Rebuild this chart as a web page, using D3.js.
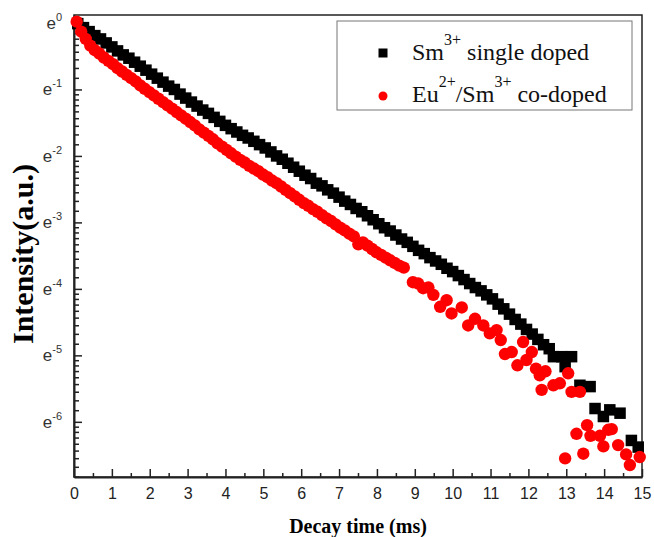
<!DOCTYPE html>
<html lang="en">
<head>
<meta charset="UTF-8">
<title>Decay curves Sm3+ / Eu2+ Sm3+</title>
<script src="https://d3js.org/d3.v7.min.js"></script>
<style>
  body { margin: 0; background: #fff; }
  svg { display: block; }
  text { white-space: pre; }
</style>
</head>
<body>
<svg width="654" height="537"></svg>
<script>
  // decay time (ms) and ln(intensity)
  const smTime = [0.10, 0.25, 0.40, 0.55, 0.70, 0.85, 1.00, 1.15, 1.30, 1.45, 1.60, 1.75, 1.90, 2.05, 2.20,
    2.35, 2.50, 2.65, 2.80, 2.95, 3.10, 3.25, 3.40, 3.55, 3.70, 3.85, 4.00, 4.15, 4.30, 4.45, 4.60, 4.75,
    4.90, 5.05, 5.20, 5.35, 5.50, 5.65, 5.80, 5.95, 6.10, 6.25, 6.40, 6.55, 6.70, 6.85, 7.00, 7.15, 7.30,
    7.45, 7.60, 7.75, 7.90, 8.05, 8.20, 8.35, 8.50, 8.65, 8.80, 8.95, 9.10, 9.25, 9.40, 9.55, 9.70, 9.85,
    10.00, 10.15, 10.30, 10.45, 10.60, 10.75, 10.90, 11.05, 11.20, 11.35, 11.50, 11.65, 11.80, 11.95,
    12.10, 12.25, 12.40, 12.55, 12.66, 12.88, 12.97, 13.14, 13.36, 13.63, 13.76, 13.98, 14.15, 14.42,
    14.72, 14.90];
  const smExp = [-0.01, -0.07, -0.13, -0.19, -0.24, -0.30, -0.36, -0.42, -0.48, -0.53, -0.59, -0.65, -0.71,
    -0.77, -0.83, -0.89, -0.95, -1.00, -1.07, -1.13, -1.19, -1.25, -1.31, -1.36, -1.42, -1.48, -1.54, -1.59,
    -1.64, -1.69, -1.73, -1.78, -1.83, -1.88, -1.94, -2.00, -2.05, -2.11, -2.17, -2.23, -2.29, -2.34, -2.41,
    -2.45, -2.51, -2.56, -2.62, -2.68, -2.73, -2.79, -2.84, -2.90, -2.96, -3.02, -3.08, -3.13, -3.19, -3.25,
    -3.30, -3.36, -3.42, -3.47, -3.53, -3.58, -3.63, -3.69, -3.74, -3.80, -3.86, -3.92, -3.98, -4.03, -4.09,
    -4.15, -4.23, -4.30, -4.38, -4.46, -4.53, -4.61, -4.68, -4.76, -4.84, -4.90, -5.02, -5.02, -5.17, -5.02,
    -5.45, -5.47, -5.80, -5.92, -5.82, -5.87, -6.28, -6.38];

  const euTime = [0.07, 0.19, 0.31, 0.43, 0.55, 0.67, 0.79, 0.91, 1.03, 1.15, 1.27, 1.39, 1.51, 1.63, 1.75,
    1.87, 1.99, 2.11, 2.23, 2.35, 2.47, 2.59, 2.71, 2.83, 2.95, 3.07, 3.19, 3.31, 3.43, 3.55, 3.67, 3.79,
    3.91, 4.03, 4.15, 4.27, 4.39, 4.51, 4.63, 4.75, 4.87, 4.99, 5.11, 5.23, 5.35, 5.47, 5.59, 5.71, 5.83,
    5.95, 6.07, 6.19, 6.31, 6.43, 6.55, 6.67, 6.79, 6.91, 7.03, 7.15, 7.27, 7.39, 7.51, 7.63, 7.75, 7.87,
    7.99, 8.11, 8.23, 8.35, 8.47, 8.59, 8.71, 8.95, 9.09, 9.22, 9.36, 9.49, 9.67, 9.84, 9.97, 10.24, 10.41,
    10.59, 10.81, 10.98, 11.16, 11.27, 11.38, 11.56, 11.71, 11.86, 11.95, 12.09, 12.20, 12.30, 12.35,
    12.45, 12.66, 12.83, 12.97, 13.05, 13.14, 13.27, 13.36, 13.45, 13.55, 13.64, 13.89, 13.98, 14.11,
    14.20, 14.37, 14.58, 14.68, 14.94];
  const euExp = [0.02, -0.13, -0.24, -0.34, -0.41, -0.46, -0.52, -0.57, -0.62, -0.68, -0.73, -0.78, -0.83,
    -0.88, -0.94, -0.99, -1.04, -1.09, -1.14, -1.19, -1.24, -1.29, -1.34, -1.39, -1.44, -1.49, -1.54, -1.60,
    -1.65, -1.70, -1.75, -1.81, -1.86, -1.91, -1.96, -2.01, -2.06, -2.10, -2.15, -2.19, -2.23, -2.28, -2.32,
    -2.37, -2.41, -2.46, -2.51, -2.56, -2.61, -2.66, -2.71, -2.75, -2.80, -2.84, -2.89, -2.94, -2.98, -3.03,
    -3.08, -3.12, -3.17, -3.21, -3.33, -3.30, -3.35, -3.40, -3.45, -3.49, -3.53, -3.57, -3.61, -3.65, -3.68,
    -3.90, -3.92, -3.99, -3.98, -4.09, -4.27, -4.17, -4.37, -4.28, -4.55, -4.45, -4.55, -4.67, -4.62, -4.77,
    -4.98, -4.95, -5.15, -4.80, -5.07, -4.95, -5.20, -5.30, -5.52, -5.24, -5.45, -5.42, -6.55, -5.27, -5.55,
    -6.18, -5.55, -6.48, -6.05, -6.21, -6.21, -6.37, -6.12, -6.11, -6.35, -6.49, -6.65, -6.53];

  const xTicks = [0, 1, 2, 3, 4, 5, 6, 7, 8, 9, 10, 11, 12, 13, 14, 15];
  const yExpTicks = [0, -1, -2, -3, -4, -5, -6];

  const smData = smTime.map((t, i) => ({ t: t, v: Math.exp(smExp[i]) }));
  const euData = euTime.map((t, i) => ({ t: t, v: Math.exp(euExp[i]) }));

  const plotL = 74, plotR = 642, plotT = 15, plotB = 477;

  const x = d3.scaleLinear().domain([0, 15]).range([plotL, plotR]);
  const y = d3.scaleLog().base(Math.E)
    .domain([Math.exp(-6.83), Math.exp(0.12)])
    .range([plotB, plotT]);

  const svg = d3.select('svg');

  // frame
  svg.append('rect')
    .attr('x', plotL).attr('y', plotT)
    .attr('width', plotR - plotL).attr('height', plotB - plotT)
    .attr('fill', 'none').attr('stroke', '#222').attr('stroke-width', 1.5);

  // x minor ticks
  const xMinor = xTicks.slice(0, -1).map(d => d + 0.5);
  svg.append('g')
    .attr('transform', `translate(0,${plotB})`)
    .call(d3.axisBottom(x).tickValues(xMinor).tickSize(-4).tickSizeOuter(0).tickFormat(''))
    .call(g => g.select('.domain').remove())
    .selectAll('line').attr('stroke', '#222').attr('stroke-width', 1.5);

  // x axis
  const xAxis = svg.append('g')
    .attr('transform', `translate(0,${plotB})`)
    .call(d3.axisBottom(x).tickValues(xTicks).tickSize(-8).tickSizeOuter(0).tickPadding(11));
  xAxis.select('.domain').attr('stroke', '#222').attr('stroke-width', 2);
  xAxis.selectAll('line').attr('stroke', '#222').attr('stroke-width', 1.5);
  xAxis.selectAll('text')
    .attr('font-family', '"Liberation Sans", Arial, sans-serif')
    .attr('font-size', 16).attr('fill', '#222');

  // y minor ticks (linear steps inside each e-decade)
  const yMinor = [];
  for (let k = 7; k >= 1; k--) {
    const lo = Math.exp(-k), hi = Math.exp(-k + 1);
    for (let j = 1; j <= 8; j++) {
      const v = lo + j * (hi - lo) / 9;
      if (v > y.domain()[0] && v < y.domain()[1]) yMinor.push(v);
    }
  }
  svg.append('g')
    .attr('transform', `translate(${plotL},0)`)
    .call(d3.axisLeft(y).tickValues(yMinor).tickSize(-5).tickSizeOuter(0).tickFormat(''))
    .call(g => g.select('.domain').remove())
    .selectAll('line').attr('stroke', '#222').attr('stroke-width', 1.5);

  // y axis
  const yAxis = svg.append('g')
    .attr('transform', `translate(${plotL},0)`)
    .call(d3.axisLeft(y).tickValues(yExpTicks.map(k => Math.exp(k)))
      .tickSize(-8).tickSizeOuter(0).tickPadding(12).tickFormat(() => ''));
  yAxis.select('.domain').attr('stroke', '#222').attr('stroke-width', 2);
  yAxis.selectAll('line').attr('stroke', '#222').attr('stroke-width', 1.5);
  yAxis.selectAll('.tick text')
    .attr('font-family', '"Liberation Sans", Arial, sans-serif')
    .attr('font-size', 17).attr('fill', '#333')
    .each(function (d) {
      const t = d3.select(this);
      t.append('tspan').text('e');
      t.append('tspan').attr('dy', -8).attr('font-size', 11)
        .text(String(Math.round(Math.log(d))));
    });

  // data: Sm3+ single doped (squares), then co-doped (circles) on top
  const sq = 11.5;
  svg.append('g').selectAll('rect')
    .data(smData)
    .join('rect')
    .attr('x', d => x(d.t) - sq / 2)
    .attr('y', d => y(d.v) - sq / 2)
    .attr('width', sq).attr('height', sq)
    .attr('fill', '#000');

  svg.append('g').selectAll('circle')
    .data(euData)
    .join('circle')
    .attr('cx', d => x(d.t))
    .attr('cy', d => y(d.v))
    .attr('r', 6.2)
    .attr('fill', '#ff0000');

  // axis titles
  const serif = '"Liberation Serif", "Times New Roman", serif';
  svg.append('text')
    .attr('x', (plotL + plotR) / 2).attr('y', 533)
    .attr('text-anchor', 'middle')
    .attr('font-family', serif)
    .attr('font-weight', 'bold').attr('font-size', 20)
    .text('Decay time (ms)');

  svg.append('text')
    .attr('transform', 'translate(33,254) rotate(-90)')
    .attr('text-anchor', 'middle')
    .attr('font-family', serif)
    .attr('font-weight', 'bold').attr('font-size', 30)
    .text('Intensity(a.u.)');

  // legend
  const legend = svg.append('g');
  legend.append('rect')
    .attr('x', 337).attr('y', 21).attr('width', 295).attr('height', 89)
    .attr('fill', '#fff').attr('stroke', '#777').attr('stroke-width', 1);
  legend.append('rect')
    .attr('x', 383 - 4.5).attr('y', 53 - 4.5).attr('width', 9).attr('height', 9)
    .attr('fill', '#000');
  legend.append('circle')
    .attr('cx', 383).attr('cy', 96).attr('r', 4.5)
    .attr('fill', '#ff0000');

  const l1 = legend.append('text')
    .attr('x', 412).attr('y', 60)
    .attr('font-family', serif).attr('font-size', 24).attr('fill', '#111');
  l1.append('tspan').text('Sm');
  l1.append('tspan').attr('dy', -15).attr('font-size', 16).text('3+');
  l1.append('tspan').attr('dy', 15).text(' single doped');

  const l2 = legend.append('text')
    .attr('x', 412).attr('y', 102)
    .attr('font-family', serif).attr('font-size', 24).attr('fill', '#111');
  l2.append('tspan').text('Eu');
  l2.append('tspan').attr('dy', -15).attr('font-size', 16).text('2+');
  l2.append('tspan').attr('dy', 15).text('/Sm');
  l2.append('tspan').attr('dy', -15).attr('font-size', 16).text('3+');
  l2.append('tspan').attr('dy', 15).text(' co-doped');
</script>
</body>
</html>
